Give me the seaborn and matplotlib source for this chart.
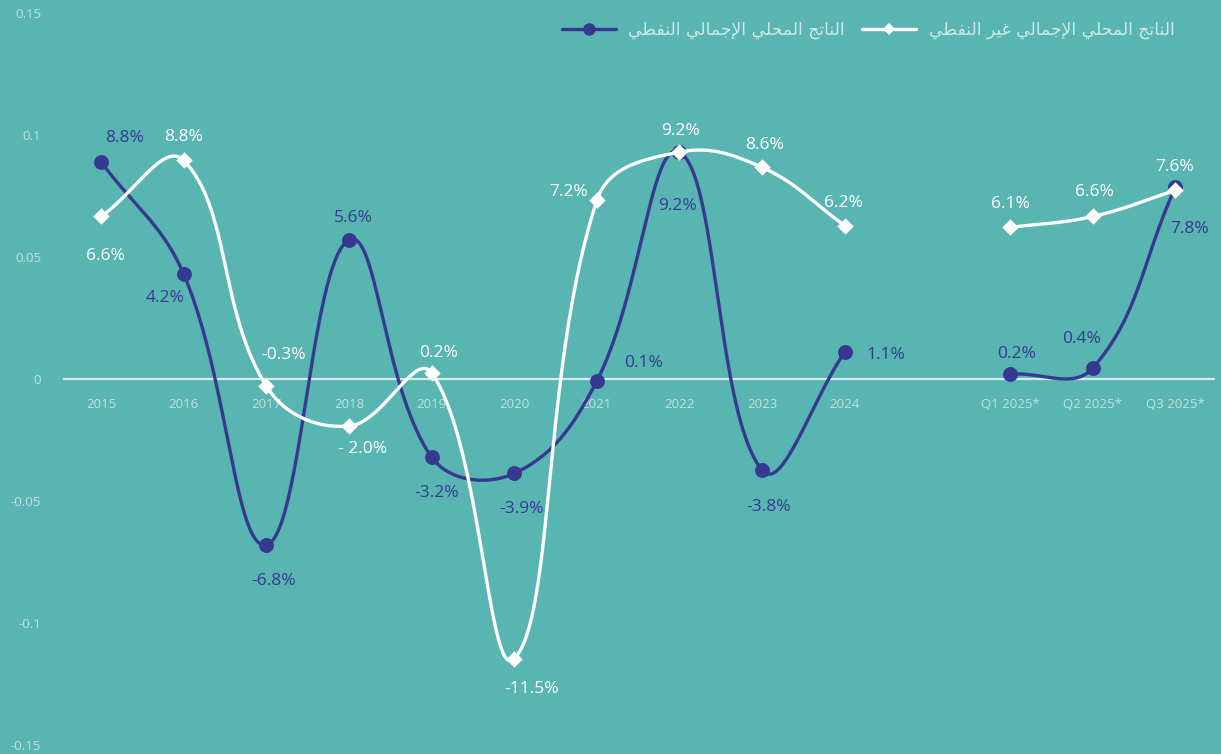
import numpy as np
import pandas as pd
import matplotlib
matplotlib.use("Agg")
import matplotlib.pyplot as plt
from matplotlib.lines import Line2D
import seaborn as sns

# ---------------- data ----------------
categories = ['2015', '2016', '2017', '2018', '2019', '2020', '2021', '2022', '2023', '2024',
              '', 'Q1 2025*', 'Q2 2025*', 'Q3 2025*']
oil_gdp = [0.089, 0.043, -0.068, 0.057, -0.032, -0.0387, -0.0008, 0.093, -0.0374, 0.011,
           np.nan, 0.002, 0.0045, 0.0785]
nonoil_gdp = [0.0666, 0.0896, -0.0029, -0.0193, 0.0025, -0.1147, 0.0732, 0.093, 0.0867, 0.0629,
              np.nan, 0.0621, 0.0666, 0.0773]
oil_labels = ['8.8%', '4.2%', '-6.8%', '5.6%', '-3.2%', '-3.9%', '0.1%', '9.2%', '-3.8%', '1.1%',
              '', '0.2%', '0.4%', '7.8%']
nonoil_labels = ['6.6%', '8.8%', '-0.3%', '- 2.0%', '0.2%', '-11.5%', '7.2%', '9.2%', '8.6%', '6.2%',
                 '', '6.1%', '6.6%', '7.6%']
y_ticks = [-0.15, -0.1, -0.05, 0, 0.05, 0.1, 0.15]
y_tick_labels = ['-0.15', '-0.1', '-0.05', '0', '0.05', '0.1', '0.15']
legend_oil = 'الناتج المحلي الإجمالي النفطي'
legend_nonoil = 'الناتج المحلي الإجمالي غير النفطي'

# ---------------- styles ----------------
BG = '#58b5b2'
NAVY = '#36398f'
WHITE = '#ffffff'
TICK_C = '#c3e1de'
ZERO_C = '#d2ebe8'
LEG_C = '#cfe9e6'
TENSION = 0.4

# label offsets in pixels (dx, dy)
oil_off = [(24, 24), (-19, -24), (7, -36), (4, 22), (5, -36), (7, -36), (47, 18), (-2, -54),
           (6, -37), (41, -3), None, (7, 20), (-11, 29), (14, -42)]
nonoil_off = [(4, -40), (0, 23), (17, 31), (14, -23), (7, 20), (17, -30), (-28, 8), (1, 21),
              (2, 22), (-1, 23), None, (0, 23), (2, 24), (-1, 23)]


# ---------------- arabic shaping (presentation forms) ----------------
FORMS = {
    'ا': ('\uFE8D', '\uFE8E', None, None),
    'إ': ('\uFE87', '\uFE88', None, None),
    'ر': ('\uFEAD', '\uFEAE', None, None),
    'ل': ('\uFEDD', '\uFEDE', '\uFEDF', '\uFEE0'),
    'ن': ('\uFEE5', '\uFEE6', '\uFEE7', '\uFEE8'),
    'ت': ('\uFE95', '\uFE96', '\uFE97', '\uFE98'),
    'ج': ('\uFE9D', '\uFE9E', '\uFE9F', '\uFEA0'),
    'م': ('\uFEE1', '\uFEE2', '\uFEE3', '\uFEE4'),
    'ح': ('\uFEA1', '\uFEA2', '\uFEA3', '\uFEA4'),
    'ي': ('\uFEF1', '\uFEF2', '\uFEF3', '\uFEF4'),
    'غ': ('\uFECD', '\uFECE', '\uFECF', '\uFED0'),
    'ف': ('\uFED1', '\uFED2', '\uFED3', '\uFED4'),
    'ط': ('\uFEC1', '\uFEC2', '\uFEC3', '\uFEC4'),
    'LA': ('\uFEFB', '\uFEFC', None, None),
    'LAH': ('\uFEF9', '\uFEFA', None, None),
}


def shape_arabic(text):
    seq = []
    i = 0
    while i < len(text):
        c = text[i]
        if c == 'ل' and i + 1 < len(text) and text[i + 1] in ('ا', 'إ'):
            seq.append('LA' if text[i + 1] == 'ا' else 'LAH')
            i += 2
        else:
            seq.append(c)
            i += 1
    res = []
    for k, c in enumerate(seq):
        if c not in FORMS:
            res.append(c)
            continue
        prev = seq[k - 1] if k > 0 else None
        nxt = seq[k + 1] if k + 1 < len(seq) else None
        jp = prev in FORMS and FORMS[prev][2] is not None
        jn = nxt in FORMS and FORMS[c][2] is not None
        iso, fin, ini, med = FORMS[c]
        if jp and jn:
            res.append(med)
        elif jp:
            res.append(fin)
        elif jn:
            res.append(ini)
        else:
            res.append(iso)
    return ''.join(reversed(res))


# ---------------- smoothing (tension spline in screen space) ----------------
def smooth_runs(ax, xs, ys, n=50):
    xs = np.asarray(xs, float)
    ys = np.asarray(ys, float)
    valid = ~np.isnan(ys)
    runs, cur = [], []
    for i in range(len(ys)):
        if valid[i]:
            cur.append(i)
        else:
            if cur:
                runs.append(cur)
            cur = []
    if cur:
        runs.append(cur)
    inv = ax.transData.inverted()
    result = []
    for run in runs:
        P = ax.transData.transform(np.column_stack([xs[run], ys[run]]))
        m = len(P)
        cps = []
        for j in range(m):
            prev = P[j - 1] if j > 0 else P[j]
            nxt = P[j + 1] if j + 1 < m else P[j]
            d01 = np.hypot(*(P[j] - prev))
            d12 = np.hypot(*(nxt - P[j]))
            tot = d01 + d12
            fa = TENSION * d01 / tot if tot > 0 else 0
            fb = TENSION * d12 / tot if tot > 0 else 0
            cps.append((P[j] - fa * (nxt - prev), P[j] + fb * (nxt - prev)))
        pts = []
        t = np.linspace(0, 1, n)[:, None]
        for j in range(m - 1):
            a, b1, b2, d = P[j], cps[j][1], cps[j + 1][0], P[j + 1]
            seg = ((1 - t) ** 3 * a + 3 * (1 - t) ** 2 * t * b1
                   + 3 * (1 - t) * t ** 2 * b2 + t ** 3 * d)
            pts.append(seg)
        pts = np.vstack(pts)
        result.append(inv.transform(pts))
    return result


sns.set_theme(style='white')
plt.rcParams['font.family'] = ['Open Sans', 'DejaVu Sans']

fig = plt.figure(figsize=(12.21, 7.54), dpi=100, facecolor=BG)
ax = fig.add_axes([63 / 1221, 9 / 754, 1152 / 1221, 732 / 754])
ax.set_facecolor(BG)

pos = np.arange(len(categories))
df = pd.DataFrame({'pos': pos, 'oil': oil_gdp, 'nonoil': nonoil_gdp})

ax.set_xlim(-0.46, 13.48)
ax.set_ylim(-0.15, 0.15)

# zero line
ax.axhline(0, color=ZERO_C, lw=1.6, zorder=1)

# curves
for col, color, z in [('oil', NAVY, 3), ('nonoil', WHITE, 5)]:
    for seg in smooth_runs(ax, df['pos'], df[col]):
        sns.lineplot(x=seg[:, 0], y=seg[:, 1], ax=ax, color=color, lw=2.4,
                     sort=False, estimator=None, zorder=z)

sns.scatterplot(data=df.dropna(), x='pos', y='oil', ax=ax, color=NAVY, s=115, marker='o',
                linewidth=0, zorder=4)
sns.scatterplot(data=df.dropna(), x='pos', y='nonoil', ax=ax, color=WHITE, s=70, marker='D',
                linewidth=0, zorder=6)

# data labels
for i in range(len(categories)):
    if oil_off[i] is not None and not np.isnan(oil_gdp[i]):
        ax.annotate(oil_labels[i], (pos[i], oil_gdp[i]), xytext=oil_off[i],
                    textcoords='offset pixels', ha='center', va='center',
                    fontsize=12.5, color=NAVY, zorder=8)
    if nonoil_off[i] is not None and not np.isnan(nonoil_gdp[i]):
        ax.annotate(nonoil_labels[i], (pos[i], nonoil_gdp[i]), xytext=nonoil_off[i],
                    textcoords='offset pixels', ha='center', va='center',
                    fontsize=12.5, color=WHITE, zorder=8)

# axes
ax.set_xlim(-0.46, 13.48)
ax.set_ylim(-0.15, 0.15)
ax.set_xticks(pos)
ax.set_xticklabels(categories)
ax.set_yticks(y_ticks)
ax.set_yticklabels(y_tick_labels)
ax.set_xlabel('')
ax.set_ylabel('')
for s in ax.spines.values():
    s.set_visible(False)
ax.spines['bottom'].set_position(('data', 0))
ax.tick_params(axis='x', length=0, pad=14, labelsize=9.5, labelcolor=TICK_C)
ax.tick_params(axis='y', length=0, pad=15.8, labelsize=9.5, labelcolor=TICK_C)
ax.grid(False)

# legend
handles = [
    Line2D([0], [0], color=NAVY, lw=2.4, marker='o', markersize=9, markeredgewidth=0),
    Line2D([0], [0], color=WHITE, lw=2.4, marker='D', markersize=6.5, markeredgewidth=0),
]
labels = [shape_arabic(legend_oil), shape_arabic(legend_nonoil)]
leg = ax.legend(handles, labels, loc='center right', bbox_to_anchor=(0.965, 0.977),
                ncol=2, frameon=False, handlelength=3.16, handletextpad=0.75,
                columnspacing=1.0, borderaxespad=0, borderpad=0,
                prop={'family': ['DejaVu Sans'], 'size': 12.3})
for t in leg.get_texts():
    t.set_color(LEG_C)

fig.savefig('out.png', dpi=100, facecolor=BG)
